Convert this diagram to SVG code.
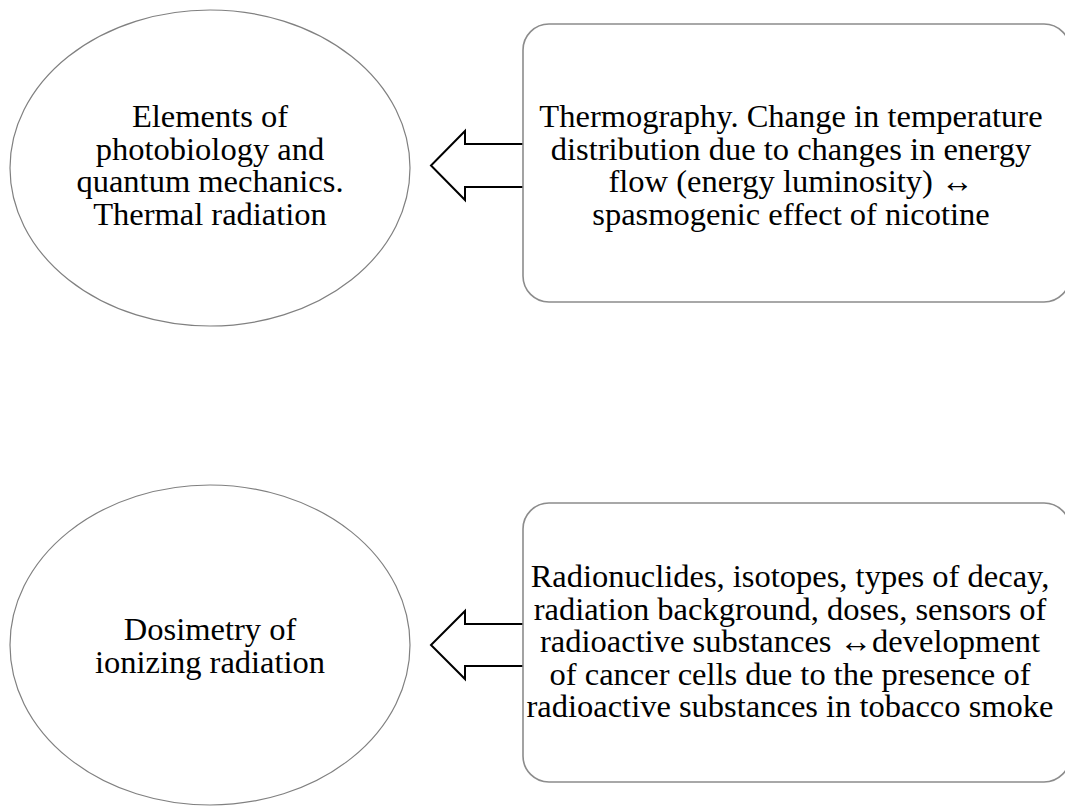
<svg xmlns="http://www.w3.org/2000/svg" width="1065" height="808" viewBox="0 0 1065 808">
  <style>
    .oval { fill: #fff; stroke: #808080; stroke-width: 1.2; }
    .box { fill: #fff; stroke: #8c8c8c; stroke-width: 1.6; }
    .arrow { fill: #fff; stroke: #000; stroke-width: 2; stroke-linejoin: miter; }
    .label { font-family: 'Liberation Serif', 'Times New Roman', serif; font-size: 32.5px; fill: #000; text-anchor: middle; }
  </style>
  <rect width="1065" height="808" fill="#fff"/>

  <!-- block arrows pointing from each box back to its oval -->
  <g id="connectors">
    <polyline class="arrow" points="523,144 465,144 465,131 431,165.5 465,200 465,187 523,187"/>
    <polyline class="arrow" points="523,624 465,624 465,611 431,645 465,679 465,666 523,666"/>
  </g>

  <g id="node-photobiology">
    <ellipse class="oval" cx="210" cy="168" rx="200" ry="158"/>
    <g class="label">
      <text x="210" y="127">Elements of</text>
      <text x="210" y="159.5">photobiology and</text>
      <text x="210" y="192">quantum mechanics.</text>
      <text x="210" y="224.5">Thermal radiation</text>
    </g>
  </g>

  <g id="node-thermography">
    <rect class="box" x="523" y="24" width="547" height="278" rx="26" ry="26"/>
    <g class="label">
      <text x="791" y="127">Thermography. Change in temperature</text>
      <text x="791" y="159.5">distribution due to changes in energy</text>
      <text x="791" y="192">flow (energy luminosity) ↔</text>
      <text x="791" y="224.5">spasmogenic effect of nicotine</text>
    </g>
  </g>

  <g id="node-dosimetry">
    <ellipse class="oval" cx="210" cy="645" rx="200" ry="160"/>
    <g class="label">
      <text x="210" y="640">Dosimetry of</text>
      <text x="210" y="672.5">ionizing radiation</text>
    </g>
  </g>

  <g id="node-radionuclides">
    <rect class="box" x="523" y="503" width="547" height="279" rx="26" ry="26"/>
    <g class="label">
      <text x="790" y="587">Radionuclides, isotopes, types of decay,</text>
      <text x="790" y="619.5">radiation background, doses, sensors of</text>
      <text x="790" y="652">radioactive substances ↔development</text>
      <text x="790" y="684.5">of cancer cells due to the presence of</text>
      <text x="790" y="717">radioactive substances in tobacco smoke</text>
    </g>
  </g>
</svg>
